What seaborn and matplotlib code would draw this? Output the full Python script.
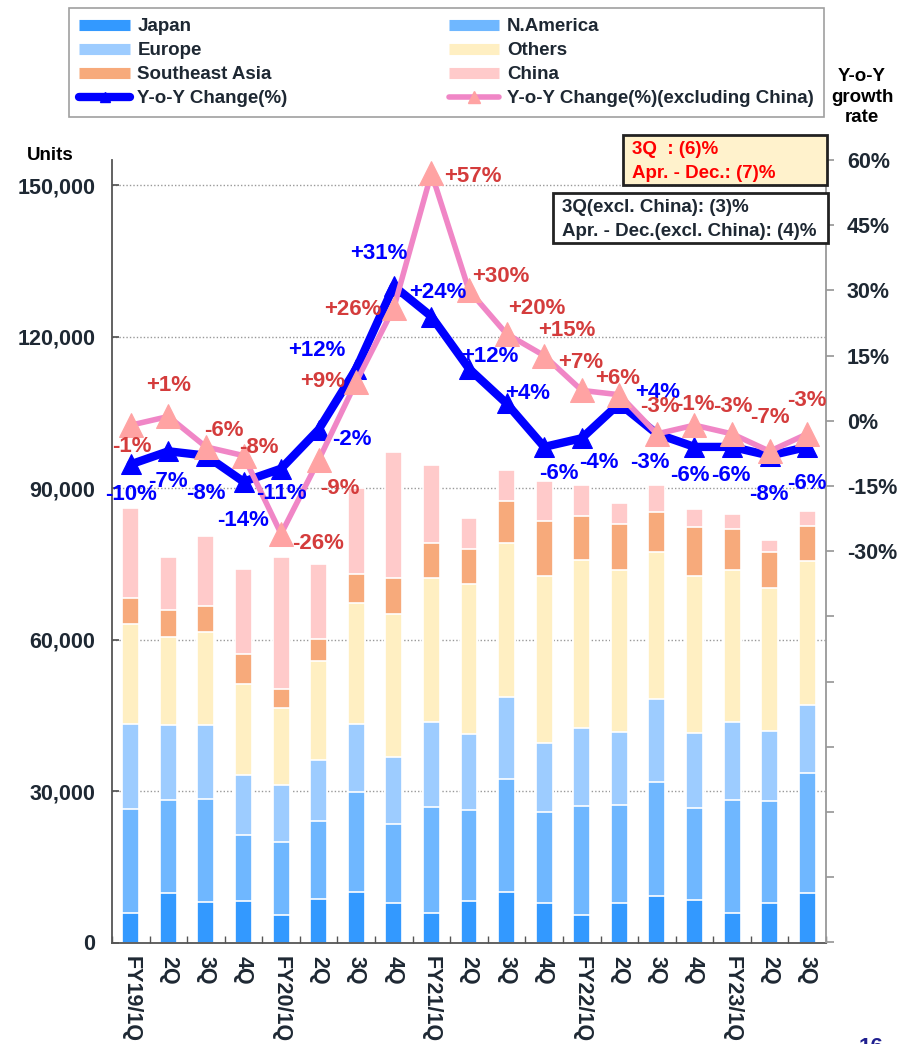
import numpy as np
import pandas as pd
import matplotlib
matplotlib.use('Agg')
import matplotlib.pyplot as plt
import seaborn as sns
from matplotlib.lines import Line2D
from matplotlib.patches import Rectangle
from matplotlib.ticker import FuncFormatter

# quarterly sales by region (thousand units)
periods = ['FY19/1Q', '2Q', '3Q', '4Q', 'FY20/1Q', '2Q', '3Q', '4Q', 'FY21/1Q', '2Q',
           '3Q', '4Q', 'FY22/1Q', '2Q', '3Q', '4Q', 'FY23/1Q', '2Q', '3Q']
japan = [5.8, 9.9, 8.0, 8.2, 5.4, 8.6, 10.1, 7.8, 5.9, 8.2,
         10.1, 7.8, 5.4, 7.9, 9.2, 8.4, 5.8, 7.9, 9.9]
n_america = [20.6, 18.3, 20.4, 13.1, 14.6, 15.5, 19.7, 15.6, 21.0, 18.1,
             22.3, 18.1, 21.7, 19.3, 22.5, 18.2, 22.4, 20.1, 23.6]
europe = [16.9, 14.8, 14.6, 11.9, 11.2, 12.1, 13.5, 13.3, 16.8, 15.0,
          16.3, 13.6, 15.3, 14.4, 16.5, 14.9, 15.5, 13.8, 13.6]
others = [19.7, 17.6, 18.5, 18.1, 15.3, 19.6, 23.9, 28.3, 28.5, 29.8,
          30.4, 33.0, 33.4, 32.2, 29.2, 31.1, 30.1, 28.5, 28.5]
se_asia = [5.3, 5.3, 5.2, 5.9, 3.8, 4.4, 5.7, 7.2, 7.0, 6.9,
           8.4, 10.9, 8.6, 9.1, 7.8, 9.8, 8.1, 7.1, 6.9]
china = [17.7, 10.5, 13.8, 16.7, 26.0, 14.8, 17.1, 24.9, 15.3, 6.0,
         6.0, 8.0, 6.2, 4.2, 5.4, 3.4, 3.0, 2.4, 2.9]

yoy = [-10, -7, -8, -14, -11, -2, 12, 31, 24, 12,
       4, -6, -4, 4, -3, -6, -6, -8, -6]
yoy_ex_china = [-1, 1, -6, -8, -26, -9, 9, 26, 57, 30,
                20, 15, 7, 6, -3, -1, -3, -7, -3]

# label offsets in pixels (dx, dy with y downward)
yoy_offsets = [(0, 30), (0, 30), (0, 38), (0, 39), (0, 25), (33, 10), (-39, -18), (-15, -33),
               (6, -24), (21, -12), (21, -10), (15, 27), (17, 24), (38, -11), (-7, 29),
               (-5, 29), (-1, 29), (-1, 39), (0, 37)]
ex_offsets = [(1, 21), (0, -31), (18, -16), (15, -8), (37, 10), (21, 29), (-34, 0), (-41, 2),
              (41, 3), (32, -14), (30, -25), (23, -25), (-1, -28), (-2, -16), (3, -27),
              (0, -21), (1, -27), (0, -34), (0, -33)]

regions = ['Japan', 'N.America', 'Europe', 'Others', 'Southeast Asia', 'China']
colors = ['#3399FF', '#6FB7FF', '#9DCCFF', '#FFEFC2', '#F7AA7B', '#FFCACA']
series = [japan, n_america, europe, others, se_asia, china]

text_col = '#1E2833'
blue = '#0000FF'
pink_line = '#F086C6'
pink_mark = '#FFA3A3'
red_txt = '#D43C3C'

sns.set_theme(style='white')
plt.rcParams['font.family'] = ['Liberation Sans', 'DejaVu Sans']
plt.rcParams['font.weight'] = 'bold'

df = pd.DataFrame({'pos': np.arange(len(periods))})
cum = np.zeros(len(periods))
for name, vals in zip(regions, series):
    cum = cum + np.array(vals) * 1000
    df[name] = cum

fig = plt.figure(figsize=(8.97, 10.44), dpi=100)
ax1 = fig.add_axes([112 / 897, 1 - 942.5 / 1044, (826 - 112) / 897, (942.5 - 160) / 1044])

# stacked bars: draw cumulative totals from the top layer down
for name, c in reversed(list(zip(regions, colors))):
    sns.barplot(data=df, x='pos', y=name, color=c, width=0.45, edgecolor='white',
                linewidth=1.2, saturation=1, ax=ax1, zorder=2)

ax1.set_xlim(-0.5, len(periods) - 0.5)
ax1.set_ylim(0, 155000)
ax1.set_yticks(np.arange(0, 150001, 30000))
ax1.yaxis.set_major_formatter(FuncFormatter(lambda v, p: f'{int(v):,}'))
for yv in range(30000, 150001, 30000):
    ax1.axhline(yv, color='#999999', lw=1, ls=(0, (1, 1.5)), zorder=0)
ax1.set_xticks(np.arange(len(periods)))
ax1.set_xticklabels(periods, rotation=-90, va='top', ha='center')
ax1.set_xticks(np.arange(-0.5, len(periods), 1), minor=True)
ax1.tick_params(axis='x', which='major', length=0, pad=10, labelsize=15.5, labelcolor=text_col)
ax1.tick_params(axis='x', which='minor', direction='in', length=5, color='#555555', bottom=True)
ax1.tick_params(axis='y', direction='in', length=5, color='#555555', pad=12,
                labelsize=15.5, labelcolor=text_col, left=True)
ax1.set_xlabel('')
ax1.set_ylabel('')
for s in ['top', 'right']:
    ax1.spines[s].set_visible(False)
for s in ['left', 'bottom']:
    ax1.spines[s].set_color('#555555')
    ax1.spines[s].set_linewidth(1.3)

# growth rate lines on the right axis
ax2 = ax1.twinx()
ax2.set_ylim(-120, 60)
x = np.arange(len(periods))
sns.lineplot(x=x, y=yoy, color=blue, lw=6, marker='^', markersize=15,
             markerfacecolor=blue, markeredgecolor=blue, ax=ax2, zorder=3)
sns.lineplot(x=x, y=yoy_ex_china, color=pink_line, lw=4, marker='^', markersize=17,
             markerfacecolor=pink_mark, markeredgecolor=pink_mark, ax=ax2, zorder=4)
for i, v in enumerate(yoy):
    dx, dy = yoy_offsets[i]
    ax2.annotate(f'{v:+d}%', (i, v), xytext=(dx, -dy), textcoords='offset pixels',
                 ha='center', va='center', color=blue, fontsize=16, fontweight='bold', zorder=6)
for i, v in enumerate(yoy_ex_china):
    dx, dy = ex_offsets[i]
    ax2.annotate(f'{v:+d}%', (i, v), xytext=(dx, -dy), textcoords='offset pixels',
                 ha='center', va='center', color=red_txt, fontsize=16, fontweight='bold', zorder=6)

ax2.set_yticks(np.arange(-120, 61, 15))
ax2.set_yticklabels([f'{t}%' if t >= -30 else '' for t in range(-120, 61, 15)])
ax2.tick_params(axis='y', direction='out', length=6, color='#999999', pad=9,
                labelsize=15.5, labelcolor=text_col, right=True)
ax2.set_ylabel('')
ax2.set_xlim(-0.5, len(periods) - 0.5)
for s in ['top', 'left', 'bottom']:
    ax2.spines[s].set_visible(False)
ax2.spines['right'].set_color('#999999')
ax2.spines['right'].set_linewidth(1.3)

# legend
h = [Line2D([], [], color=c, lw=8, solid_capstyle='butt') for c in colors]
h_yoy = Line2D([], [], color=blue, lw=6, marker='^', markersize=7, markerfacecolor=blue)
h_ex = Line2D([], [], color=pink_line, lw=4, marker='^', markersize=9,
              markerfacecolor=pink_mark, markeredgecolor=pink_mark)
handles = [h[0], h[2], h[4], h_yoy, h[1], h[3], h[5], h_ex]
labels = ['Japan', 'Europe', 'Southeast Asia', 'Y-o-Y Change(%)',
          'N.America', 'Others', 'China', 'Y-o-Y Change(%)(excluding China)']
leg = fig.legend(handles, labels, ncol=2, mode='expand', loc='upper left',
                 bbox_to_anchor=(69 / 897, 1 - 107 / 1044, (824 - 69) / 897, 99 / 1044),
                 fontsize=13.5, frameon=True, fancybox=False, edgecolor='#888888',
                 handlelength=2.7, handletextpad=0.4, labelspacing=0.36, borderpad=0.55,
                 borderaxespad=0)
leg.get_frame().set_linewidth(1.2)
for t in leg.get_texts():
    t.set_color(text_col)
    t.set_fontweight('bold')

# summary boxes
fig.patches.append(Rectangle((623 / 897, 1 - 185 / 1044), (827 - 623) / 897, 50 / 1044,
                             transform=fig.transFigure, facecolor='#FFF2CC',
                             edgecolor='#222222', lw=2, zorder=10))
fig.patches.append(Rectangle((553 / 897, 1 - 243 / 1044), (828 - 553) / 897, 50 / 1044,
                             transform=fig.transFigure, facecolor='white',
                             edgecolor='#222222', lw=2, zorder=10))
fig.text(632 / 897, 1 - 150 / 1044, '3Q  : (6)%', color='#FF0000', fontsize=13.5,
         fontweight='bold', va='center', zorder=11)
fig.text(632 / 897, 1 - 174 / 1044, 'Apr. - Dec.: (7)%', color='#FF0000', fontsize=13.5,
         fontweight='bold', va='center', zorder=11)
fig.text(562 / 897, 1 - 208 / 1044, '3Q(excl. China): (3)%', color=text_col, fontsize=13.5,
         fontweight='bold', va='center', zorder=11)
fig.text(562 / 897, 1 - 231 / 1044, 'Apr. - Dec.(excl. China): (4)%', color=text_col,
         fontsize=13.5, fontweight='bold', va='center', zorder=11)

# axis titles
fig.text(50 / 897, 1 - 155 / 1044, 'Units', ha='center', va='center', fontsize=13.5,
         fontweight='bold', color='black')
fig.text(862 / 897, 1 - 97 / 1044, 'Y-o-Y\ngrowth\nrate', ha='center', va='center',
         fontsize=13.5, fontweight='bold', color='black', linespacing=1.25)
fig.text(883 / 897, 1 - 1037 / 1044, '16', ha='right', va='top', fontsize=16,
         color='#1F1F8F')

fig.savefig('out.png', dpi=100)
